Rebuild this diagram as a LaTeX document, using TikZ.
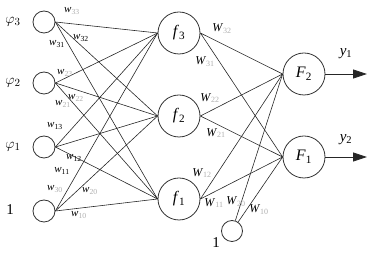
\documentclass[tikz,border=0pt]{standalone}
\usepackage{fontspec}
\setmainfont{Liberation Serif}
\usetikzlibrary{arrows.meta}
\definecolor{lgray}{RGB}{175,175,175}
\newcommand{\wg}[1]{\textit{w}\textsubscript{\color{lgray}#1}}
\newcommand{\wb}[1]{\textit{w}\textsubscript{#1}}
\newcommand{\Wg}[1]{\textit{W}\textsubscript{\color{lgray}#1}}
\tikzset{
  neuron/.style={circle,draw=black!80,line width=0.8pt,inner sep=0pt},
  inneuron/.style={neuron,minimum size=22pt},
  bigneuron/.style={neuron,minimum size=42pt,font=\fontsize{16}{16}\selectfont},
  conn/.style={draw=black!85,line width=0.6pt},
  wlab/.style={font=\fontsize{11}{11}\selectfont,inner sep=0pt},
  Wlab/.style={font=\fontsize{12}{12}\selectfont,inner sep=0pt},
  side/.style={font=\fontsize{15}{15}\selectfont,inner sep=0pt},
  outarrow/.style={draw=black!85,line width=0.8pt,-{Triangle[length=14pt,width=9pt]}}
}
\begin{document}
\begin{tikzpicture}[x=1pt,y=-1pt]
\useasboundingbox (0,0) rectangle (384,256);
% input layer
\node[inneuron] (i3) at (44,22) {};
\node[inneuron] (i2) at (44,83) {};
\node[inneuron] (i1) at (44,147) {};
\node[inneuron] (i0) at (44,211) {};
\node[side] (p3) at (13,22) {$\varphi_3$};
\node[side] (p2) at (13,83) {$\varphi_2$};
\node[side] (p1) at (13,147) {$\varphi_1$};
\node[side] (p0) at (10,210) {1};
% hidden layer
\node[bigneuron] (h3) at (179,33) {\textit{f}\textsubscript{3}};
\node[bigneuron] (h2) at (179,116) {\textit{f}\textsubscript{2}};
\node[bigneuron] (h1) at (179,199) {\textit{f}\textsubscript{1}};
% output layer
\node[bigneuron] (o2) at (304,74) {\textit{F}\textsubscript{2}};
\node[bigneuron] (o1) at (304,157) {\textit{F}\textsubscript{1}};
\node[neuron,minimum size=21pt] (b2) at (232,231) {};
\node[side] (b2l) at (216,243) {1};
% input to hidden
\foreach \i in {i3,i2,i1,i0}{
  \foreach \h in {h3,h2,h1}{
    \draw[conn] (\i.east) -- (\h.west);
  }
}
% hidden to output
\foreach \h in {h3,h2,h1}{
  \foreach \o in {o2,o1}{
    \draw[conn] (\h.east) -- (\o.west);
  }
}
\draw[conn] (b2) -- (o2.west);
\draw[conn] (b2) -- (o1.west);
% outputs
\coordinate (e2) at (367,74);
\coordinate (e1) at (367,157);
\draw[outarrow] (o2.east) -- (e2);
\draw[outarrow] (o1.east) -- (e1);
\node[side] (y1) at (346,54) {\textit{y}\textsubscript{1}};
\node[side] (y2) at (346,140) {\textit{y}\textsubscript{2}};
% weight labels
\node[wlab] (w33) at (72,11) {\wg{33}};
\node[wlab] (w32) at (81,38) {\wb{32}};
\node[wlab] (w31) at (57,44) {\wb{31}};
\node[wlab] (w23) at (65,73) {\wg{23}};
\node[wlab] (w22) at (76,98) {\wg{22}};
\node[wlab] (w21) at (63,104) {\wg{21}};
\node[wlab] (w13) at (55,126) {\wb{13}};
\node[wlab] (w12) at (74,158) {\wb{12}};
\node[wlab] (w11) at (62,171) {\wb{11}};
\node[wlab] (w30) at (55,189) {\wg{30}};
\node[wlab] (w20) at (90,191) {\wg{20}};
\node[wlab] (w10) at (79,215) {\wg{10}};
\node[Wlab] (W32) at (222,29) {\Wg{32}};
\node[Wlab] (W31) at (205,62) {\Wg{31}};
\node[Wlab] (W22) at (210,98) {\Wg{22}};
\node[Wlab] (W21) at (216,133) {\Wg{21}};
\node[Wlab] (W12) at (202,173) {\Wg{12}};
\node[Wlab] (W11) at (214,203) {\Wg{11}};
\node[Wlab] (W20) at (236,202) {\Wg{20}};
\node[Wlab] (W10) at (259,210) {\Wg{10}};
\end{tikzpicture}
\end{document}
